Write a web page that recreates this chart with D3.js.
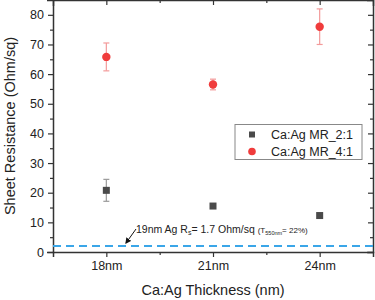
<!DOCTYPE html>
<html>
<head>
<meta charset="utf-8">
<script src="https://cdn.jsdelivr.net/npm/d3@7"></script>
<style>
  body { margin: 0; background: #fff; }
  svg { font-family: "Liberation Sans", Arial, sans-serif; }
</style>
</head>
<body>
<div id="chart"></div>
<script>
const thickness = [18, 21, 24];
const tickLabels = ["18nm", "21nm", "24nm"];
const mr21 = [20.8, 15.5, 12.3];
const mr21Err = [3.7, 0, 0];
const mr41 = [65.8, 56.5, 76.0];
const mr41Err = [4.7, 1.8, 6.0];
const refLine = 2.0;

const width = 375, height = 300;
const margin = { top: 0, right: 2, bottom: 48, left: 53 };

const svg = d3.select("#chart").append("svg")
    .attr("width", width)
    .attr("height", height);

const x = d3.scaleLinear().domain([16.5, 25.5]).range([margin.left, width - margin.right]);
const y = d3.scaleLinear().domain([0, 85]).range([height - margin.bottom, margin.top]);

// axes
const xAxis = d3.axisBottom(x)
    .tickValues([18, 19.5, 21, 22.5, 24])
    .tickSize(5)
    .tickFormat(d => { const i = thickness.indexOf(d); return i >= 0 ? tickLabels[i] : ""; });
const gx = svg.append("g")
    .attr("transform", `translate(0,${y(0)})`)
    .call(xAxis);
gx.selectAll(".tick line").attr("y2", d => thickness.includes(d) ? 5 : 3);

const gxTop = svg.append("g")
    .attr("transform", `translate(0,${y(85)})`)
    .call(d3.axisBottom(x).tickValues([18, 19.5, 21, 22.5, 24]).tickFormat(""));
gxTop.selectAll(".tick line").attr("y2", d => thickness.includes(d) ? 5 : 3);

const gy = svg.append("g")
    .attr("transform", `translate(${x(16.5)},0)`)
    .call(d3.axisLeft(y).tickValues(d3.range(0, 85, 5)).tickFormat(d => d % 10 === 0 ? d : ""));
gy.selectAll(".tick line").attr("x2", d => d % 10 === 0 ? -5 : -3);

const gyR = svg.append("g")
    .attr("transform", `translate(${x(25.5)},0)`)
    .call(d3.axisLeft(y).tickValues(d3.range(0, 85, 5)).tickFormat(""));
gyR.selectAll(".tick line").attr("x2", d => d % 10 === 0 ? -5 : -3);

[gx, gxTop, gy, gyR].forEach(g => {
    g.select(".domain").attr("stroke", "#333").attr("stroke-width", 1.5);
    g.selectAll(".tick line").attr("stroke", "#333").attr("stroke-width", 1.2);
    g.selectAll("text").attr("font-size", 12.5).attr("fill", "#222")
        .attr("font-family", "Liberation Sans, Arial, sans-serif");
});
gx.selectAll("text").attr("dy", "0.8em");

// reference line
svg.append("line")
    .attr("x1", x(16.5)).attr("x2", x(25.5))
    .attr("y1", y(refLine)).attr("y2", y(refLine))
    .attr("stroke", "#3aa6e8")
    .attr("stroke-width", 2)
    .attr("stroke-dasharray", "8,5");

// annotation
const ann = svg.append("text")
    .attr("x", 136).attr("y", 233)
    .attr("font-size", 10.5)
    .attr("fill", "#222");
ann.append("tspan").text("19nm Ag R");
ann.append("tspan").attr("font-size", 7).attr("dy", 2).text("s");
ann.append("tspan").attr("dy", -2).text("= 1.7 Ohm/sq ");
ann.append("tspan").attr("font-size", 8).text("(T");
ann.append("tspan").attr("font-size", 5.5).attr("dy", 2).text("550nm");
ann.append("tspan").attr("font-size", 8).attr("dy", -2).text("= 22%)");

svg.append("defs").append("marker")
    .attr("id", "arr")
    .attr("viewBox", "0 0 10 10")
    .attr("refX", 8).attr("refY", 5)
    .attr("markerWidth", 6).attr("markerHeight", 6)
    .attr("orient", "auto")
    .append("path").attr("d", "M0,0L10,5L0,10z").attr("fill", "#111");
svg.append("line")
    .attr("x1", 136).attr("y1", 229)
    .attr("x2", 126).attr("y2", 243)
    .attr("stroke", "#111").attr("stroke-width", 1)
    .attr("marker-end", "url(#arr)");

// error bars
function errBars(vals, errs, color) {
    const g = svg.append("g");
    thickness.forEach((t, i) => {
        if (!errs[i]) return;
        const cx = x(t), y1 = y(vals[i] + errs[i]), y2 = y(vals[i] - errs[i]);
        g.append("line").attr("x1", cx).attr("x2", cx).attr("y1", y1).attr("y2", y2);
        g.append("line").attr("x1", cx - 3).attr("x2", cx + 3).attr("y1", y1).attr("y2", y1);
        g.append("line").attr("x1", cx - 3).attr("x2", cx + 3).attr("y1", y2).attr("y2", y2);
    });
    g.selectAll("line").attr("stroke", color).attr("stroke-width", 1.2);
}
errBars(mr21, mr21Err, "#9a9a9a");
errBars(mr41, mr41Err, "#f39a9a");

svg.append("g").selectAll("rect")
    .data(mr21)
    .join("rect")
    .attr("x", (d, i) => x(thickness[i]) - 3.5)
    .attr("y", d => y(d) - 3.5)
    .attr("width", 7).attr("height", 7)
    .attr("fill", "#4a4a4a");

svg.append("g").selectAll("circle")
    .data(mr41)
    .join("circle")
    .attr("cx", (d, i) => x(thickness[i]))
    .attr("cy", d => y(d))
    .attr("r", 4.2)
    .attr("fill", "#f03c3c");

// legend
const lg = svg.append("g");
lg.append("rect")
    .attr("x", 235).attr("y", 124.5)
    .attr("width", 127).attr("height", 35)
    .attr("fill", "#fff").attr("stroke", "#888").attr("stroke-width", 1);
lg.append("rect").attr("x", 249).attr("y", 131.5).attr("width", 6).attr("height", 6).attr("fill", "#4a4a4a");
lg.append("circle").attr("cx", 252).attr("cy", 151.5).attr("r", 3.8).attr("fill", "#f03c3c");
lg.append("text").attr("x", 271).attr("y", 139).attr("font-size", 12.5).attr("fill", "#222").text("Ca:Ag MR_2:1");
lg.append("text").attr("x", 271).attr("y", 156).attr("font-size", 12.5).attr("fill", "#222").text("Ca:Ag MR_4:1");

// axis titles
svg.append("text")
    .attr("x", (x(16.5) + x(25.5)) / 2).attr("y", 295)
    .attr("text-anchor", "middle")
    .attr("font-size", 14.5).attr("fill", "#222")
    .text("Ca:Ag Thickness (nm)");
svg.append("text")
    .attr("transform", `translate(10,${y(42.5)}) rotate(-90)`)
    .attr("text-anchor", "middle")
    .attr("dy", "0.35em")
    .attr("font-size", 14.5).attr("fill", "#222")
    .text("Sheet Resistance (Ohm/sq)");
</script>
</body>
</html>
